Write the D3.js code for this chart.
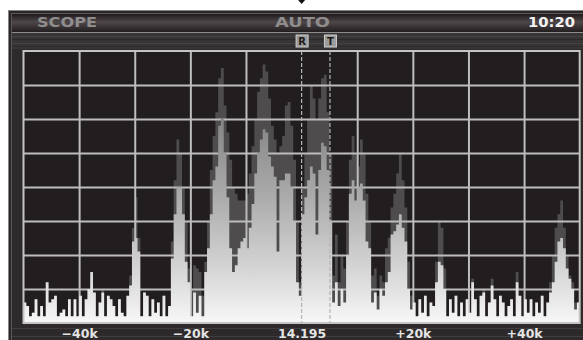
<!DOCTYPE html>
<html><head><meta charset="utf-8">
<script src="https://cdn.jsdelivr.net/npm/d3@7"></script>
<style>html,body{margin:0;padding:0;background:#fff;overflow:hidden}</style>
</head><body>
<svg id="c" width="583" height="340"></svg>
<script>
// ---- data ----
const headerLeft = "SCOPE";
const headerMid = "AUTO";
const headerRight = "10:20";
const xTickValues = [-40, -20, 0, 20, 40];          // kHz offset from centre
const xTickLabels = ["−40k", "−20k", "14.195", "+20k", "+40k"];
const markerNames = ["R", "T"];
const markerFreqs = [0, 5.1];                         // kHz
const binStart = -50, binWidth = 0.5;                 // kHz
// current sweep level per 0.5 kHz bin (dB above floor)
const current = [
  6,5,2,3,7,2,5,2,12,6,
  7,8,2,3,4,2,7,2,7,2,
  8,2,7,10,15,9,2,6,9,2,
  8,7,5,2,7,3,2,8,11,24,
  25,21,2,9,8,2,7,3,6,2,
  8,2,5,19,32,40,40,32,18,12,
  2,9,3,8,2,15,22,32,42,46,
  58,60,50,37,22,15,17,22,24,25,
  22,28,35,44,50,54,57,56,49,46,
  43,21,42,42,44,44,40,30,12,8,
  32,37,42,46,44,26,45,53,52,45,
  30,6,12,5,10,6,20,38,42,36,
  40,41,36,24,22,6,9,4,10,8,
  12,15,26,27,29,32,28,24,10,4,
  6,2,7,3,8,2,6,5,12,18,
  17,10,2,7,3,8,2,6,2,7,
  3,12,7,2,8,9,2,6,11,7,
  2,8,6,2,5,7,2,12,8,2,
  7,3,7,2,6,3,8,2,6,9,
  12,18,24,25,22,16,13,10,4,6
];
// peak-hold level per bin
const peak = [
  6,5,2,3,7,2,5,2,12,6,
  7,8,2,3,4,2,7,2,7,2,
  8,2,7,10,15,9,2,6,10,2,
  8,7,5,2,7,3,2,8,14,28,
  37,25,2,9,8,2,7,3,6,2,
  8,2,5,24,42,54,50,40,30,16,
  10,17,16,15,8,18,30,45,55,62,
  72,75,64,56,48,40,38,36,36,36,
  38,44,52,60,68,72,76,74,66,58,
  54,50,52,55,64,65,58,48,30,12,
  40,50,60,70,66,60,66,72,73,62,
  50,14,26,12,20,16,30,48,55,50,
  46,54,50,38,30,14,16,8,14,12,
  22,25,34,38,44,50,42,34,18,8,
  6,2,7,3,8,2,6,5,18,30,
  28,16,2,7,3,8,2,6,2,7,
  3,13,7,2,8,10,2,6,13,7,
  2,8,6,2,5,7,2,15,8,2,
  7,3,7,2,6,3,8,2,6,12,
  20,28,32,36,28,20,14,12,6,6
];

// ---- layout ----
const svg = d3.select("#c");
const P = {l: 23.5, r: 579.7, t: 51, b: 323};
const x = d3.scaleLinear().domain([-50, 50]).range([P.l, P.r]);
const y = d3.scaleLinear().domain([0, 80]).range([P.b, P.t]);
const defs = svg.append("defs");

const hg = defs.append("linearGradient").attr("id","hdr").attr("x1",0).attr("y1",0).attr("x2",0).attr("y2",1);
[[0,"#1f191b"],[0.45,"#4e4749"],[0.7,"#3a3436"],[1,"#221d1f"]].forEach(s=>hg.append("stop").attr("offset",s[0]).attr("stop-color",s[1]));
const fg = defs.append("linearGradient").attr("id","fill").attr("gradientUnits","userSpaceOnUse")
  .attr("x1",0).attr("y1",P.b).attr("x2",0).attr("y2",P.t);
[[0,"#f8f8f8"],[0.12,"#e2e2e2"],[0.45,"#adadad"],[0.8,"#7e7e7e"],[1,"#666"]].forEach(s=>fg.append("stop").attr("offset",s[0]).attr("stop-color",s[1]));

// frame
svg.append("rect").attr("x",8.5).attr("y",10.5).attr("width",590).attr("height",340)
  .attr("fill","#2b2728").attr("stroke","#858585");
svg.append("rect").attr("x",11.5).attr("y",13.5).attr("width",590).attr("height",340)
  .attr("fill","#2e2a2b").attr("stroke","#5c5859");
svg.append("rect").attr("x",12).attr("y",14).attr("width",571).attr("height",18).attr("fill","url(#hdr)");
svg.append("line").attr("x1",12).attr("x2",583).attr("y1",32.5).attr("y2",32.5).attr("stroke","#8c8c8c");
svg.append("rect").attr("x",12).attr("y",33).attr("width",571).attr("height",16).attr("fill","#383536");
// streak texture (fixed)
[36,39,43,46].forEach((yy,i)=>svg.append("line").attr("x1",12).attr("x2",583).attr("y1",yy+0.5).attr("y2",yy+0.5)
  .attr("stroke", i%2? "#2c292a":"#444142"));
[328,332,336].forEach((yy,i)=>svg.append("line").attr("x1",12).attr("x2",583).attr("y1",yy+0.5).attr("y2",yy+0.5)
  .attr("stroke", i%2? "#2a2728":"#403d3e"));

// header texts
const hdrFont = "'DejaVu Sans', 'Liberation Sans', sans-serif";
svg.append("text").attr("x",37).attr("y",27).text(headerLeft)
  .attr("font-family",hdrFont).attr("font-weight","bold").attr("font-size",14)
  .attr("textLength",60).attr("lengthAdjust","spacingAndGlyphs").attr("fill","#8f8c8d");
svg.append("text").attr("x",275).attr("y",27).text(headerMid)
  .attr("font-family",hdrFont).attr("font-weight","bold").attr("font-size",14)
  .attr("textLength",55).attr("lengthAdjust","spacingAndGlyphs").attr("fill","#8f8c8d");
svg.append("text").attr("x",528).attr("y",27).text(headerRight)
  .attr("font-family",hdrFont).attr("font-weight","bold").attr("font-size",14)
  .attr("textLength",47).attr("lengthAdjust","spacingAndGlyphs").attr("fill","#f2f2f2");

// plot background
svg.append("rect").attr("x",P.l).attr("y",P.t).attr("width",P.r-P.l).attr("height",P.b-P.t).attr("fill","#221e1f");

// spectrum data points (step)
const pts = (arr) => { const p = arr.map((v,i)=>[binStart+i*binWidth, v]); p.push([binStart+arr.length*binWidth, arr[arr.length-1]]); return p; };
const area = d3.area().x(d=>x(d[0])).y0(y(0)).y1(d=>y(d[1])).curve(d3.curveStepAfter);

svg.append("path").attr("d", area(pts(peak))).attr("fill","#4e4c4d");

// grid
const gx = d3.axisBottom(x).tickValues(d3.range(-40,50,10).filter(v=>v!==0)).tickSize(-(P.b-P.t)).tickFormat("");
const gy = d3.axisLeft(y).tickValues(d3.range(10,80,10)).tickSize(-(P.r-P.l)).tickFormat("");
svg.append("g").attr("transform",`translate(0,${P.b})`).call(gx)
  .call(g=>g.select(".domain").remove()).selectAll("line").attr("stroke","#bdbdbd").attr("stroke-width",2);
svg.append("g").attr("transform",`translate(${P.l},0)`).call(gy)
  .call(g=>g.select(".domain").remove()).selectAll("line").attr("stroke","#bdbdbd").attr("stroke-width",2);

svg.append("path").attr("d", area(pts(current))).attr("fill","url(#fill)");

// border
svg.append("rect").attr("x",P.l).attr("y",P.t).attr("width",P.r-P.l).attr("height",P.b-P.t)
  .attr("fill","none").attr("stroke","#c4c4c4").attr("stroke-width",2);

// markers
markerFreqs.forEach((f,i)=>{
  svg.append("line").attr("x1",x(f)).attr("x2",x(f)).attr("y1",P.t).attr("y2",P.b)
    .attr("stroke","#b5b5b5").attr("stroke-width",1.2).attr("stroke-dasharray","4,2");
  svg.append("rect").attr("x",x(f)-5.5).attr("y",35).attr("width",12).attr("height",12)
    .attr("fill","#9c9c9c").attr("stroke","#cfcfcf").attr("stroke-width",1);
  svg.append("text").attr("x",x(f)+0.5).attr("y",45).attr("text-anchor","middle").text(markerNames[i])
    .attr("font-family",hdrFont).attr("font-weight","bold").attr("font-size",10).attr("fill","#1c1a1b");
});
// tuning arrow at top
svg.append("path").attr("d",`M${x(0)-3.5},0 L${x(0)+3.5},0 L${x(0)},4 Z`).attr("fill","#111");

// frequency labels
const ax = d3.axisBottom(x).tickValues(xTickValues).tickSize(0).tickFormat((d,i)=>xTickLabels[i]);
const axg = svg.append("g").attr("transform",`translate(0,${P.b})`).call(ax);
axg.select(".domain").remove();
axg.selectAll("text").attr("dy",0).attr("y",14.5)
  .attr("font-family",hdrFont).attr("font-weight","bold").attr("font-size",12.5).attr("fill","#e4e4e4");
</script>
</body></html>
